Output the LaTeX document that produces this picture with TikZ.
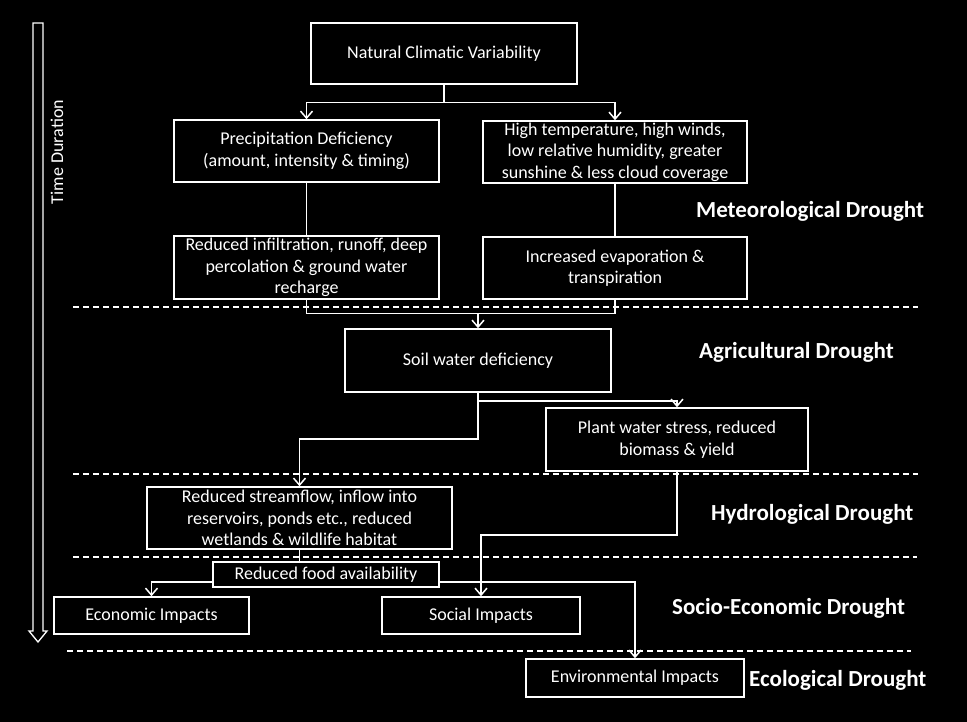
\documentclass[tikz,border=0pt]{standalone}
\usepackage{fontspec}
\setmainfont{Carlito}
\usetikzlibrary{arrows.meta,positioning,calc}

\begin{document}
\begin{tikzpicture}[x=1pt, y=-1pt,
  every node/.style={text=white, font=\fontsize{18}{21.5}\selectfont},
  box/.style={draw=white, line width=1.5pt, fill=black, inner sep=0pt, align=center},
  stage/.style={anchor=west, inner sep=0pt, font=\fontsize{23}{26}\selectfont\bfseries},
  link/.style={draw=white, line width=1.5pt},
  arr/.style={link, -{Straight Barb[length=7pt, width=12pt]}},
  sep/.style={white, line width=1.4pt, dash pattern=on 6pt off 4pt}]

  \fill[black] (0,0) rectangle (967,722);

  % time axis
  \draw[white, line width=1.3pt] (33,23) -- (43,23) -- (43,631) -- (47,631)
    -- (38,642) -- (29,631) -- (33,631) -- cycle;
  \node[rotate=90] (time) at (57,152) {Time Duration};

  % stage borders
  \draw[sep] (73,307) -- (918,307);
  \draw[sep] (73,474) -- (918,474);
  \draw[sep] (73,557) -- (917,557);
  \draw[sep] (67,651) -- (911,651);

  \node[box, minimum width=266pt, minimum height=61pt] (ncv) at (444,53.5)
    {Natural Climatic Variability};
  \node[box, minimum width=265pt, minimum height=62pt] (precip) at (306.5,151)
    {Precipitation Deficiency\\(amount, intensity \& timing)};
  \node[box, minimum width=264pt, minimum height=62pt] (hitemp) at (615,152)
    {High temperature, high winds,\\low relative humidity, greater\\sunshine \& less cloud coverage};
  \node[box, minimum width=265pt, minimum height=63pt] (infil) at (306.5,267.5)
    {Reduced infiltration, runoff, deep\\percolation \& ground water\\recharge};
  \node[box, minimum width=264pt, minimum height=62pt] (evap) at (615,268)
    {Increased evaporation \&\\transpiration};
  \node[box, minimum width=266pt, minimum height=63pt] (soil) at (478,360.5)
    {Soil water deficiency};
  \node[box, minimum width=262pt, minimum height=63pt] (plant) at (677,439.5)
    {Plant water stress, reduced\\biomass \& yield};
  \node[box, minimum width=305pt, minimum height=62pt] (flow) at (299.5,518)
    {Reduced streamflow, inflow into\\reservoirs, ponds etc., reduced\\wetlands \& wildlife habitat};
  \node[box, minimum width=226pt, minimum height=25pt] (food) at (326,574.5)
    {Reduced food availability};
  \node[box, minimum width=195pt, minimum height=37pt] (econ) at (151.5,615.5)
    {Economic Impacts};
  \node[box, minimum width=198pt, minimum height=37pt] (social) at (481,615.5)
    {Social Impacts};
  \node[box, minimum width=218pt, minimum height=38pt] (env) at (635,678)
    {Environmental Impacts};

  \node[stage] (meteo) at (696,211.5) {Meteorological Drought};
  \node[stage] (agri) at (699,352.5) {Agricultural Drought};
  \node[stage] (hydro) at (711,514.5) {Hydrological Drought};
  \node[stage] (socio) at (672,608.5) {Socio-Economic Drought};
  \node[stage] (eco) at (749,680.5) {Ecological Drought};

  % connectors
  \draw[link] (ncv.south) -- ++(0,18) coordinate (split);
  \draw[arr] (split) -| (precip.north);
  \draw[arr] (split) -| (hitemp.north);
  \draw[link] (precip.south) -- (infil.north);
  \draw[link] (hitemp.south) -- (evap.north);

  \coordinate (merge) at ($(soil.north)+(0,-15)$);
  \draw[link] (infil.south) |- (merge) -| (evap.south);
  \draw[arr] (merge) -- (soil.north);

  \draw[arr] (soil.south) -- ++(0,8) -| (plant.north);
  \draw[arr] (soil.south) -- ++(0,46) -| (flow.north);
  \draw[arr] (plant.south) -- ++(0,63) -| (social.north);
  \draw[link] (flow.south) -- (flow.south |- food.north);
  \draw[arr] ([yshift=-7.5pt]food.west) -| (econ.north);
  \draw[arr] ([yshift=-7.5pt]food.east) -| (env.north);
\end{tikzpicture}
\end{document}
